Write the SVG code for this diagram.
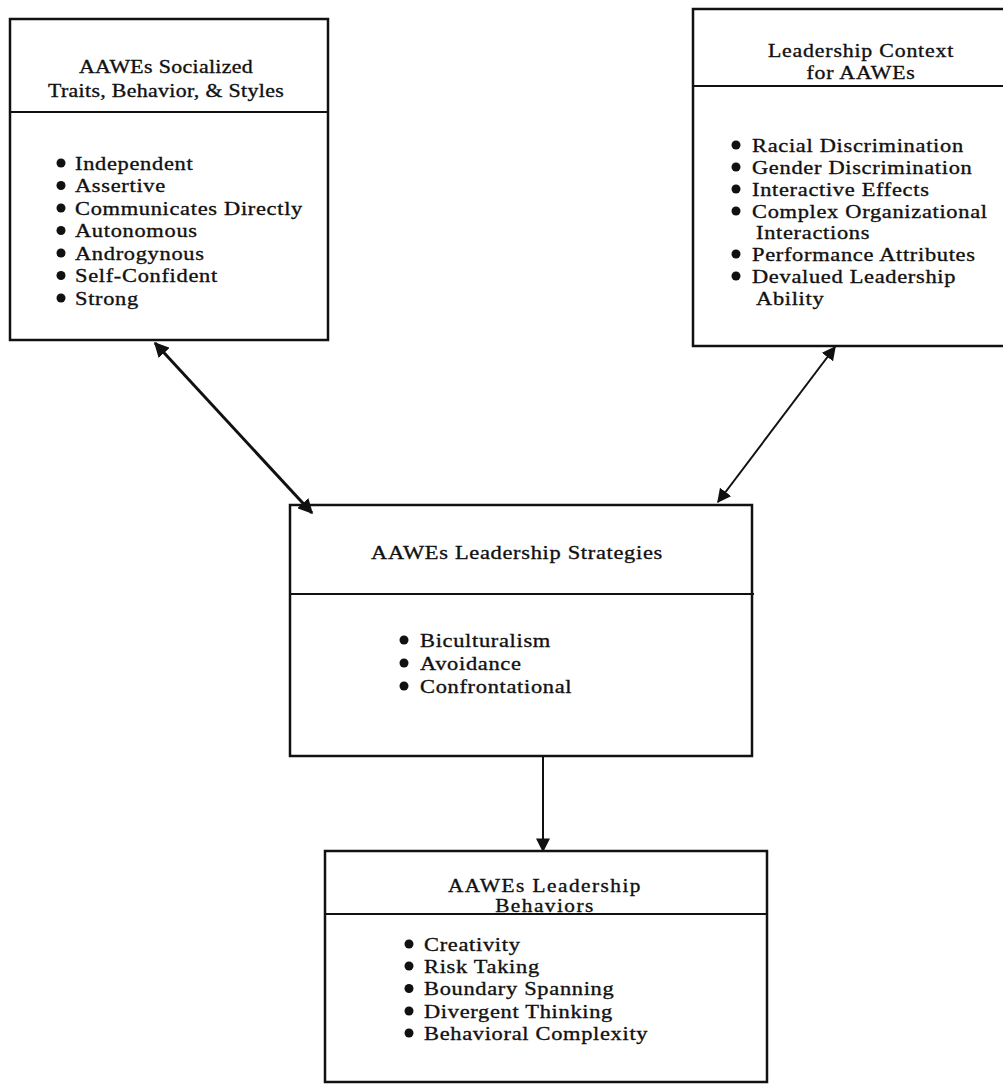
<svg xmlns="http://www.w3.org/2000/svg" width="1003" height="1084" viewBox="0 0 1003 1084">
<style>
.box{fill:none;stroke:#111;stroke-width:2.5}
.div{stroke:#111;stroke-width:2}
.t{font-family:"Liberation Serif","Times New Roman",serif;font-size:19.5px;letter-spacing:0.6px;fill:#111;stroke:#111;stroke-width:0.35}
.ttl{text-anchor:middle;font-size:19px;letter-spacing:0.3px}
.b{fill:#111}
.conn{stroke:#111;fill:none}
</style>
<defs>
<marker id="ah" viewBox="0 0 10 10" refX="9" refY="5" markerWidth="5" markerHeight="5" orient="auto-start-reverse" markerUnits="strokeWidth">
<path d="M0,0 L10,5 L0,10 z" fill="#111"/>
</marker>
<marker id="ah2" viewBox="0 0 10 10" refX="9" refY="5" markerWidth="7" markerHeight="7" orient="auto-start-reverse" markerUnits="strokeWidth">
<path d="M0,0 L10,5 L0,10 z" fill="#111"/>
</marker>
</defs>
<rect width="1003" height="1084" fill="#fff"/>

<g id="connectors">
<line class="conn" x1="155" y1="343" x2="312" y2="513" stroke-width="3" marker-start="url(#ah)" marker-end="url(#ah)"/>
<line class="conn" x1="835" y1="347" x2="718" y2="502" stroke-width="2" marker-start="url(#ah2)" marker-end="url(#ah2)"/>
<line class="conn" x1="543" y1="757" x2="543" y2="851" stroke-width="2" marker-end="url(#ah2)"/>
</g>

<g id="traits">
<rect class="box" x="10" y="19" width="318" height="321"/>
<line class="div" x1="10" y1="112" x2="328" y2="112"/>
<g transform="translate(166,0) scale(1.15,1)">
<text class="t ttl" x="0" y="73">AAWEs Socialized</text>
<text class="t ttl" x="0" y="97">Traits, Behavior, &amp; Styles</text>
</g>
<g class="b">
<circle cx="61" cy="163" r="4.5"/><circle cx="61" cy="185.5" r="4.5"/><circle cx="61" cy="208" r="4.5"/><circle cx="61" cy="230.5" r="4.5"/><circle cx="61" cy="253" r="4.5"/><circle cx="61" cy="275.5" r="4.5"/><circle cx="61" cy="298" r="4.5"/>
</g>
<g transform="translate(75,0) scale(1.15,1)">
<text class="t" x="0" y="170">Independent</text>
<text class="t" x="0" y="192.5">Assertive</text>
<text class="t" x="0" y="215">Communicates Directly</text>
<text class="t" x="0" y="237.5">Autonomous</text>
<text class="t" x="0" y="260">Androgynous</text>
<text class="t" x="0" y="282.5">Self-Confident</text>
<text class="t" x="0" y="305">Strong</text>
</g>
</g>

<g id="context">
<rect class="box" x="693" y="9" width="320" height="337"/>
<line class="div" x1="693" y1="86" x2="1003" y2="86"/>
<g transform="translate(861,0) scale(1.15,1)">
<text class="t ttl" x="0" y="57" style="letter-spacing:0.7px">Leadership Context</text>
<text class="t ttl" x="0" y="79" style="letter-spacing:0.7px">for AAWEs</text>
</g>
<g class="b">
<circle cx="736" cy="145" r="4.5"/><circle cx="736" cy="167" r="4.5"/><circle cx="736" cy="189" r="4.5"/><circle cx="736" cy="211" r="4.5"/><circle cx="736" cy="254" r="4.5"/><circle cx="736" cy="276" r="4.5"/>
</g>
<g transform="translate(752,0) scale(1.15,1)">
<text class="t" x="0" y="152">Racial Discrimination</text>
<text class="t" x="0" y="174">Gender Discrimination</text>
<text class="t" x="0" y="196">Interactive Effects</text>
<text class="t" x="0" y="218">Complex Organizational</text>
<text class="t" x="3.5" y="239">Interactions</text>
<text class="t" x="0" y="261">Performance Attributes</text>
<text class="t" x="0" y="283">Devalued Leadership</text>
<text class="t" x="3.5" y="305">Ability</text>
</g>
</g>

<g id="strategies">
<rect class="box" x="290" y="505" width="462" height="251"/>
<line class="div" x1="290" y1="594" x2="754" y2="594"/>
<g transform="translate(517,0) scale(1.15,1)">
<text class="t ttl" x="0" y="559" style="font-size:19.5px;letter-spacing:0.6px">AAWEs Leadership Strategies</text>
</g>
<g class="b">
<circle cx="404" cy="640" r="4.5"/><circle cx="404" cy="663" r="4.5"/><circle cx="404" cy="686" r="4.5"/>
</g>
<g transform="translate(420,0) scale(1.15,1)">
<text class="t" x="0" y="647">Biculturalism</text>
<text class="t" x="0" y="670">Avoidance</text>
<text class="t" x="0" y="693">Confrontational</text>
</g>
</g>

<g id="behaviors">
<rect class="box" x="325" y="851" width="442" height="231"/>
<line class="div" x1="325" y1="914" x2="767" y2="914"/>
<g transform="translate(545,0) scale(1.15,1)">
<text class="t ttl" x="0" y="892" style="font-size:18.5px;letter-spacing:1.3px">AAWEs Leadership</text>
<text class="t ttl" x="0" y="912" style="font-size:18.5px;letter-spacing:1.3px">Behaviors</text>
</g>
<g class="b">
<circle cx="409" cy="944" r="4.5"/><circle cx="409" cy="966" r="4.5"/><circle cx="409" cy="988.5" r="4.5"/><circle cx="409" cy="1011" r="4.5"/><circle cx="409" cy="1033" r="4.5"/>
</g>
<g transform="translate(424,0) scale(1.15,1)">
<text class="t" x="0" y="951">Creativity</text>
<text class="t" x="0" y="973">Risk Taking</text>
<text class="t" x="0" y="995.5">Boundary Spanning</text>
<text class="t" x="0" y="1018">Divergent Thinking</text>
<text class="t" x="0" y="1040">Behavioral  Complexity</text>
</g>
</g>
</svg>
